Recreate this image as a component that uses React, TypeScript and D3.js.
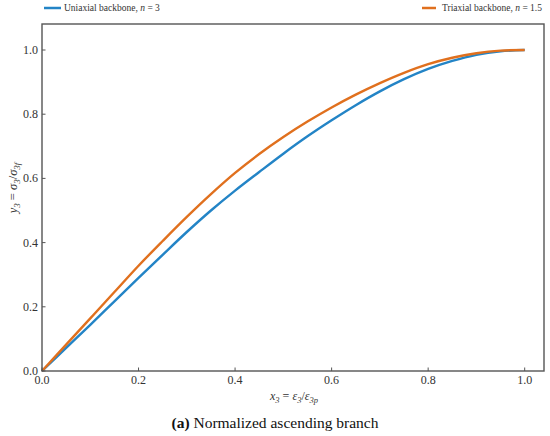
import * as d3 from "d3"

const xValues = [0, 0.05, 0.1, 0.15, 0.2, 0.25, 0.3, 0.35, 0.4, 0.45, 0.5, 0.55, 0.6, 0.65, 0.7, 0.75, 0.8, 0.85, 0.9, 0.95, 1.0]
const uniaxial = [0, 0.072, 0.144, 0.217, 0.29, 0.362, 0.433, 0.5, 0.562, 0.62, 0.677, 0.731, 0.781, 0.828, 0.871, 0.909, 0.941, 0.966, 0.985, 0.996, 1.0]
const triaxial = [0, 0.082, 0.164, 0.246, 0.328, 0.405, 0.48, 0.551, 0.617, 0.676, 0.729, 0.777, 0.821, 0.861, 0.897, 0.929, 0.956, 0.976, 0.99, 0.998, 1.0]
const xTicks = [0, 0.2, 0.4, 0.6, 0.8, 1.0]
const yTicks = [0, 0.2, 0.4, 0.6, 0.8, 1.0]

const W = 550
const H = 436
const margin = { left: 42, right: 6, top: 24, bottom: 65 }
const BLUE = "#2384c6"
const ORANGE = "#e0701e"
const AXIS = "#555"
const TXT = "#333"
const serif = "Liberation Serif"

export default function App() {
  const x = d3.scaleLinear().domain([0, 1.04]).range([margin.left, W - margin.right])
  const y = d3.scaleLinear().domain([0, 1.081]).range([H - margin.bottom, margin.top])

  const line = d3
    .line<number>()
    .x((_, i) => x(xValues[i]))
    .y((d) => y(d))
    .curve(d3.curveCatmullRom)

  const [x0, x1] = x.range()
  const [y0, y1] = y.range()

  return (
    <div style={{ position: "fixed", left: 0, top: 0 }}>
      <svg width={W} height={H} style={{ display: "block", background: "#fff", fontFamily: serif }}>
        {/* legend */}
        <line x1={44} x2={61} y1={8} y2={8} stroke={BLUE} strokeWidth={2.5} />
        <text x={64} y={11} fontSize={9.5} fill={TXT}>
          Uniaxial backbone, <tspan fontStyle="italic">n</tspan> = 3
        </text>
        <line x1={422} x2={436} y1={8} y2={8} stroke={ORANGE} strokeWidth={2.5} />
        <text x={542} y={11} fontSize={9.5} fill={TXT} textAnchor="end">
          Triaxial backbone, <tspan fontStyle="italic">n</tspan> = 1.5
        </text>

        {/* curves */}
        <path d={line(uniaxial) || ""} fill="none" stroke={BLUE} strokeWidth={2.4} />
        <path d={line(triaxial) || ""} fill="none" stroke={ORANGE} strokeWidth={2.4} />

        {/* frame */}
        <rect x={x0} y={y1} width={x1 - x0} height={y0 - y1} fill="none" stroke={AXIS} strokeWidth={1.4} />

        {/* x ticks */}
        {xTicks.map((t) => (
          <g key={"x" + t}>
            <line x1={x(t)} x2={x(t)} y1={y0} y2={y0 - 3.5} stroke={AXIS} strokeWidth={1} />
            <text x={x(t)} y={y0 + 13} fontSize={12} textAnchor="middle" fill={TXT}>
              {t.toFixed(1)}
            </text>
          </g>
        ))}

        {/* y ticks */}
        {yTicks.map((t) => (
          <g key={"y" + t}>
            <line x1={x0} x2={x0 + 3.5} y1={y(t)} y2={y(t)} stroke={AXIS} strokeWidth={1} />
            <text x={x0 - 4} y={y(t) + 4} fontSize={12} textAnchor="end" fill={TXT}>
              {t.toFixed(1)}
            </text>
          </g>
        ))}

        {/* axis labels */}
        <text x={294} y={400} fontSize={12} textAnchor="middle" fill={TXT} fontStyle="italic">
          x<tspan fontSize={8.5} dy={3}>3</tspan>
          <tspan dy={-3} fontStyle="normal"> = </tspan>
          ε<tspan fontSize={8.5} dy={3}>3</tspan>
          <tspan dy={-3} fontStyle="normal">/</tspan>
          ε<tspan fontSize={8.5} dy={3}>3p</tspan>
        </text>
        <text
          transform={`translate(17,188) rotate(-90)`}
          fontSize={12.5}
          textAnchor="middle"
          fill={TXT}
          fontStyle="italic"
        >
          y<tspan fontSize={9} dy={3}>3</tspan>
          <tspan dy={-3} fontStyle="normal"> = </tspan>
          σ<tspan fontSize={9} dy={3}>3</tspan>
          <tspan dy={-3} fontStyle="normal">/</tspan>
          σ<tspan fontSize={9} dy={3}>3f</tspan>
        </text>

        {/* caption */}
        <text x={275} y={428} fontSize={15.5} textAnchor="middle" fill="#111">
          <tspan fontWeight="bold">(a)</tspan> Normalized ascending branch
        </text>
      </svg>
    </div>
  )
}
